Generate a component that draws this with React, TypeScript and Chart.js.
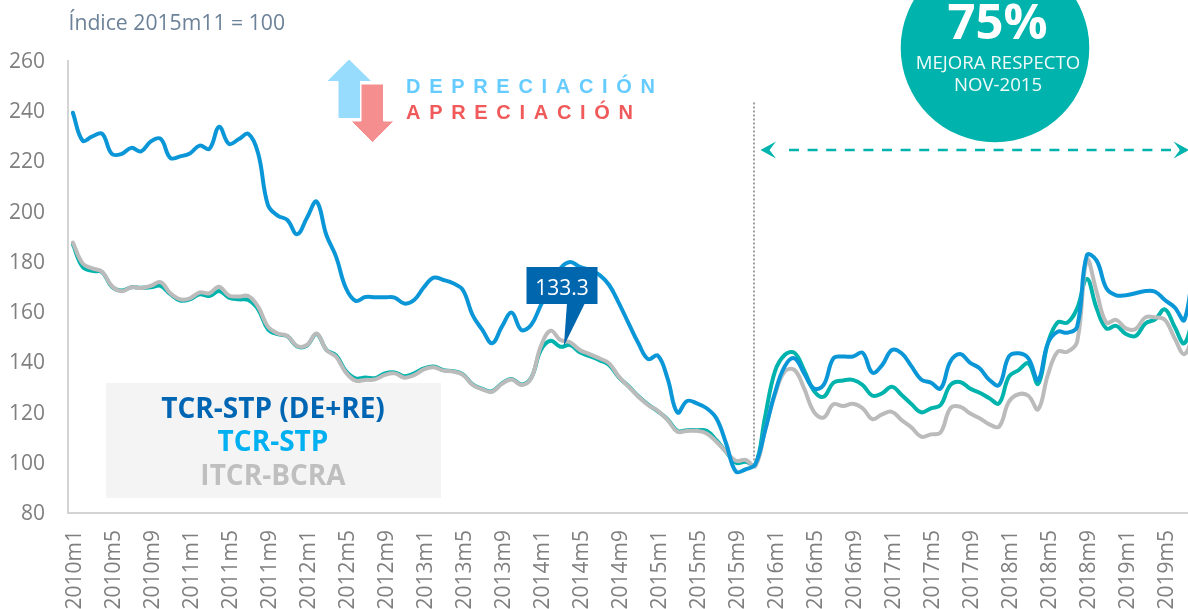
import React, { useEffect, useRef } from "react";
import { Chart, registerables } from "chart.js";

Chart.register(...registerables);

const years = [2010, 2011, 2012, 2013, 2014, 2015, 2016, 2017, 2018, 2019];
const months = [1, 2, 3, 4, 5, 6, 7, 8, 9, 10, 11, 12];
const categories = years.flatMap((y) => months.map((m) => `${y}m${m}`)).slice(0, 116);

const tcrStpDeRe = [
  239.4, 228.3, 230, 231, 223, 223, 225.4, 224, 228, 229, 221.4, 222,
  223.2, 226.3, 225, 233.8, 227, 228.8, 231, 223.3, 202.7, 198.4, 196.7, 191,
  197.5, 204, 190.7, 182, 169.6, 164.5, 166, 165.9, 165.9, 165.8, 163.4, 164.8,
  169.9, 173.7, 172.8, 171.5, 168.8, 158.8, 152.9, 147.6, 154.2, 159.8, 152.9, 154.9,
  162.8, 170, 177.4, 180, 178, 176.8, 174.8, 170.8, 163.6, 155.5, 147.6, 141.3,
  142.7, 133.5, 120, 124.6, 123.7, 121.7, 117.7, 107.7, 96.5, 97.4, 99.5, 113,
  127.7, 138.3, 141.6, 135.6, 129.6, 131, 141.6, 142.3, 142.3, 143.8, 135.9, 138.9,
  144.9, 143.6, 138.5, 133.2, 131.9, 129.6, 140.3, 143.3, 139.9, 137.6, 133, 131,
  142.3, 143.6, 141.6, 133, 147.6, 152.2, 151.8, 154.2, 182.7, 180.5, 169.5, 166.7,
  166.7, 167.5, 168.4, 168.1, 164.8, 161.9, 156.9, 181,
];
const tcrStp = [
  187, 178, 176.4, 175.9, 170.1, 168.6, 169.9, 169.7, 169.9, 170.5, 167.1, 164.6,
  165.1, 167.1, 166.4, 168.4, 165.8, 165.1, 164.8, 161.1, 153.2, 151.2, 150.4, 146.3,
  146.7, 151.3, 145, 142.8, 136.5, 133.6, 134, 133.7, 135.6, 136, 134.5, 135.6,
  137.6, 138.3, 136.9, 136.5, 135.2, 131.2, 129.4, 128.5, 131.6, 133.4, 131.2, 133.8,
  144.9, 148.6, 146.2, 146.9, 144, 142.5, 140.9, 138.9, 134, 130.5, 126.5, 123.2,
  120.5, 117.3, 112.7, 113, 113, 112.7, 109, 104.3, 100, 100.4, 99.1, 118.4,
  136.3, 142.9, 143.8, 136.9, 128.7, 126.3, 131.9, 132.8, 133, 131, 126.7, 127.7,
  130.3, 127, 123.4, 120.1, 121.7, 123, 131, 132.2, 129.6, 127.9, 125.7, 123.7,
  134.3, 136.9, 139.6, 131.4, 147.6, 155.9, 155.8, 161.5, 173.2, 161.5, 153.5, 154.5,
  151.3, 150.5, 155.5, 157.1, 161.1, 154.2, 147.6, 160,
];
const itcrBcra = [
  187.7, 179.4, 177.4, 176.1, 170.4, 168.3, 169.9, 169.6, 170.5, 171.9, 167.5, 165.1,
  165.5, 167.8, 167.5, 170.1, 166.6, 166.2, 166.4, 162.2, 154.2, 151.5, 150.5, 146.5,
  146.9, 151.5, 144.9, 142.2, 135.9, 132.7, 133, 133.2, 135, 135.6, 133.9, 134.9,
  137.2, 138, 136.7, 136.3, 135, 131, 129.2, 128.3, 131.4, 133.2, 131, 133.6,
  146.5, 152.6, 148.9, 148, 144.9, 143.3, 141.6, 139.6, 134.3, 130.3, 126.3, 123,
  120.7, 117, 112.4, 112.7, 112.7, 111.7, 108.4, 104.4, 100.8, 101.1, 98.7, 113,
  127, 136.3, 137, 129.6, 120.3, 118, 123.3, 122.6, 123.5, 121.7, 117.4, 119.3,
  120.3, 117, 114.1, 110.4, 111.3, 112.1, 121.7, 122.3, 119.7, 117.7, 115.3, 114.4,
  124.3, 127.3, 126.7, 121.3, 135, 144.2, 144.2, 148.2, 180.8, 168.1, 155.8, 156.9,
  153.5, 153.3, 157.9, 157.9, 156.9, 149.6, 143.3, 152,
];

const callout = { index: 50, value: 146.5, label: "133.3" };
const baseMonthIndex = 70;
const legendLabels = ["TCR-STP (DE+RE)", "TCR-STP", "ITCR-BCRA"];
const unitNote = "Índice 2015m11 = 100";
const directionLabels = ["DEPRECIACIÓN", "APRECIACIÓN"];
const badgeLabels = ["75%", "MEJORA RESPECTO", "NOV-2015"];

const FONT = '"Open Sans", sans-serif';
const TEAL = "#00B3AD";

function poly(ctx: CanvasRenderingContext2D, pts: number[][], fill: string, stroke?: string) {
  ctx.beginPath();
  pts.forEach(([x, y], i) => (i ? ctx.lineTo(x, y) : ctx.moveTo(x, y)));
  ctx.closePath();
  ctx.fillStyle = fill;
  ctx.fill();
  if (stroke) {
    ctx.strokeStyle = stroke;
    ctx.lineWidth = 1;
    ctx.stroke();
  }
}

function text(
  ctx: CanvasRenderingContext2D,
  s: string,
  x: number,
  y: number,
  font: string,
  color: string,
  align: CanvasTextAlign = "left",
  spacing = "0px"
) {
  ctx.font = font;
  ctx.fillStyle = color;
  ctx.textAlign = align;
  ctx.textBaseline = "alphabetic";
  (ctx as any).letterSpacing = spacing;
  ctx.fillText(s, x, y);
  (ctx as any).letterSpacing = "0px";
}

const backdrop = {
  id: "backdrop",
  beforeDatasetsDraw(chart: any) {
    const ctx: CanvasRenderingContext2D = chart.ctx;
    ctx.save();
    ctx.fillStyle = "#F4F4F4";
    ctx.fillRect(106, 383, 335, 115);
    ctx.restore();
  },
};

const annotations = {
  id: "annotations",
  afterDatasetsDraw(chart: any) {
    const ctx: CanvasRenderingContext2D = chart.ctx;
    const xs = chart.scales.x;
    const ys = chart.scales.y;
    ctx.save();

    // Reference line at the base month
    const vx = Math.round(xs.getPixelForValue(baseMonthIndex) - 1.5);
    ctx.strokeStyle = "#A0A0A0";
    ctx.lineWidth = 2;
    ctx.setLineDash([2, 2]);
    ctx.beginPath();
    ctx.moveTo(vx, ys.getPixelForValue(243.5));
    ctx.lineTo(vx, ys.getPixelForValue(100.5));
    ctx.stroke();

    // Dashed double arrow
    const ay = Math.round(ys.getPixelForValue(224.6));
    ctx.strokeStyle = TEAL;
    ctx.lineWidth = 2.6;
    ctx.setLineDash([10, 8.6]);
    ctx.beginPath();
    ctx.moveTo(789, ay);
    ctx.lineTo(1180, ay);
    ctx.stroke();
    ctx.setLineDash([]);
    poly(ctx, [[760.5, ay], [776, ay - 8.5], [769.5, ay], [776, ay + 8.5]], TEAL);
    poly(ctx, [[1189, ay], [1173.5, ay - 8.5], [1180, ay], [1173.5, ay + 8.5]], TEAL);

    // Callout
    const tipX = xs.getPixelForValue(callout.index) + 3.5;
    const tipY = ys.getPixelForValue(callout.value);
    poly(ctx, [[567, 303], [585, 303], [tipX, tipY]], "#0066AD");
    ctx.fillStyle = "#0066AD";
    ctx.fillRect(526.5, 267, 71, 37);
    text(ctx, callout.label, 562, 294.5, `21px ${FONT}`, "#FFFFFF", "center");

    // Direction arrows
    poly(ctx, [[349, 59.5], [371, 81], [360, 81], [360, 118], [338.5, 118], [338.5, 81], [327.5, 81]], "#97DBFD");
    poly(ctx, [[361, 84], [383.5, 84], [383.5, 121], [394, 121], [372.5, 142.5], [351, 121], [361, 121]], "#F58E8E", "#FFFFFF");
    text(ctx, directionLabels[0], 406, 92.5, `bold 20px "Liberation Sans", Arial, sans-serif`, "#66CCFF", "left", "8.7px");
    text(ctx, directionLabels[1], 406, 119, `bold 20px "Liberation Sans", Arial, sans-serif`, "#F05A5A", "left", "8.7px");

    // Badge
    ctx.beginPath();
    ctx.arc(995, 48, 94.3, 0, Math.PI * 2);
    ctx.fillStyle = TEAL;
    ctx.fill();
    text(ctx, badgeLabels[0], 997.5, 39, `bold 49px ${FONT}`, "#FFFFFF", "center");
    text(ctx, badgeLabels[1], 998, 69, `18.6px ${FONT}`, "#F0FAF9", "center");
    text(ctx, badgeLabels[2], 998, 91, `18.6px ${FONT}`, "#F0FAF9", "center");

    // Notes and legend
    text(ctx, unitNote, 68.5, 30, `21.2px ${FONT}`, "#6C8299");
    text(ctx, legendLabels[0], 273, 417.5, `bold 28px ${FONT}`, "#0066B3", "center");
    text(ctx, legendLabels[1], 273, 451, `bold 28px ${FONT}`, "#00B0F0", "center");
    text(ctx, legendLabels[2], 273, 485, `bold 28px ${FONT}`, "#BFBFBF", "center");
    ctx.restore();
  },
};

export default function App() {
  const ref = useRef<HTMLCanvasElement | null>(null);
  useEffect(() => {
    document.body.style.margin = "0";
    const line = (label: string, data: number[], color: string, width: number, order: number) => ({
      label,
      data,
      borderColor: color,
      backgroundColor: color,
      borderWidth: width,
      pointRadius: 0,
      tension: 0.4,
      order,
      borderCapStyle: "round" as const,
      borderJoinStyle: "round" as const,
    });
    const chart = new Chart(ref.current as HTMLCanvasElement, {
      type: "line",
      data: {
        labels: categories,
        datasets: [
          line(legendLabels[0], tcrStpDeRe, "#0B97D7", 4, 1),
          line(legendLabels[1], tcrStp, "#00B3AD", 4, 3),
          line(legendLabels[2], itcrBcra, "#BBBBBB", 4, 2),
        ],
      },
      options: {
        responsive: false,
        animation: false,
        layout: { padding: { top: 61, left: 0, right: 0, bottom: 0 } },
        plugins: { legend: { display: false }, tooltip: { enabled: false } },
        scales: {
          x: {
            type: "category",
            offset: true,
            grid: { display: false, drawTicks: false },
            border: { display: true, color: "#D4D4D4", width: 2 },
            ticks: {
              autoSkip: false,
              minRotation: 90,
              maxRotation: 90,
              padding: 17,
              labelOffset: 2,
              color: "#7F7F7F",
              font: { family: "Open Sans", size: 21 },
              callback(this: any, v: any, i: number) {
                return i % 4 === 0 ? this.getLabelForValue(v) : "";
              },
            },
            afterFit(scale: any) {
              scale.height = 96;
              scale.paddingLeft = 0;
              scale.paddingRight = 0;
            },
          },
          y: {
            min: 80,
            max: 260,
            grid: { display: false, drawTicks: false },
            border: { display: true, color: "#D4D4D4", width: 2 },
            ticks: {
              stepSize: 20,
              padding: 23,
              labelOffset: 1,
              color: "#7F7F7F",
              font: { family: "Open Sans", size: 21 },
            },
            afterFit(scale: any) {
              scale.width = 68;
              scale.paddingTop = 0;
              scale.paddingBottom = 0;
            },
          },
        },
      },
      plugins: [backdrop, annotations],
    } as any);
    return () => chart.destroy();
  }, []);
  return (
    <div style={{ width: 1188, height: 609, overflow: "hidden", position: "relative" }}>
      <canvas ref={ref} width={1199} height={609} style={{ display: "block" }} />
    </div>
  );
}
